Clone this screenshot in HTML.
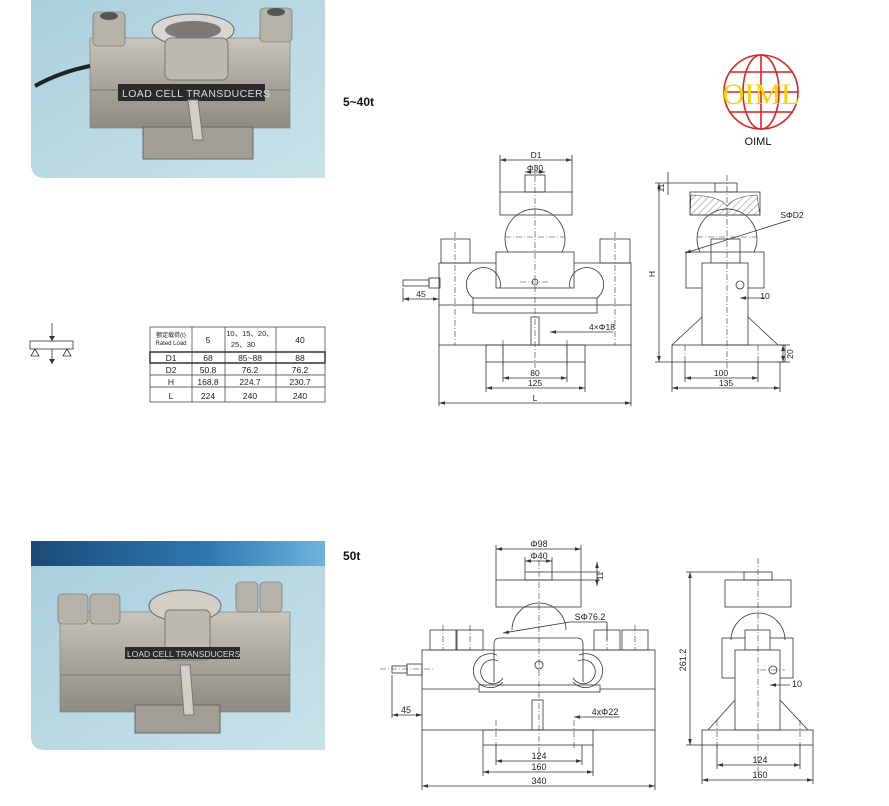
<!DOCTYPE html>
<html><head><meta charset="utf-8"><style>
html,body{margin:0;padding:0;background:#fff;}
svg{display:block;font-family:"Liberation Sans","Noto Sans CJK SC",sans-serif;}
</style></head><body>
<svg width="889" height="806" viewBox="0 0 889 806" xmlns="http://www.w3.org/2000/svg">
<defs>
<linearGradient id="bg1" x1="0" y1="0" x2="1" y2="1"><stop offset="0" stop-color="#a9cfdc"/><stop offset="1" stop-color="#c9e2ea"/></linearGradient>
<linearGradient id="metal" x1="0" y1="0" x2="0" y2="1"><stop offset="0" stop-color="#c9c6bd"/><stop offset="0.5" stop-color="#a8a59c"/><stop offset="1" stop-color="#8f8c84"/></linearGradient>
<linearGradient id="hdr" x1="0" y1="0" x2="1" y2="0"><stop offset="0" stop-color="#1b4a78"/><stop offset="0.6" stop-color="#2f78b0"/><stop offset="1" stop-color="#6fb4de"/></linearGradient>
<pattern id="hatch" width="5" height="5" patternUnits="userSpaceOnUse" patternTransform="rotate(45)"><line x1="0" y1="0" x2="0" y2="5" stroke="#555" stroke-width="0.7"/></pattern>
<marker id="ar" viewBox="0 0 10 6" refX="10" refY="3" markerWidth="6" markerHeight="3.6" orient="auto-start-reverse" markerUnits="userSpaceOnUse"><path d="M0 0 L10 3 L0 6 Z" fill="#333"/></marker>
</defs>

<!-- Photo 1 -->
<path d="M31 0 H325 V178 H45 Q31 178 31 164 Z" fill="url(#bg1)"/>
<g>
<rect x="90" y="38" width="200" height="90" fill="url(#metal)" stroke="#777" stroke-width="0.6"/>
<line x1="90" y1="90" x2="290" y2="90" stroke="#777"/>
<rect x="93" y="12" width="32" height="34" rx="4" fill="#b7b3aa" stroke="#666" stroke-width="0.6"/>
<ellipse cx="109" cy="16" rx="9" ry="4" fill="#555"/>
<rect x="260" y="8" width="32" height="34" rx="4" fill="#b7b3aa" stroke="#666" stroke-width="0.6"/>
<ellipse cx="276" cy="12" rx="9" ry="4" fill="#555"/>
<ellipse cx="193" cy="30" rx="41" ry="16" fill="#d8d6d0" stroke="#666"/>
<ellipse cx="193" cy="30" rx="28" ry="9" fill="#7d7a73"/>
<rect x="165" y="38" width="63" height="42" rx="6" fill="#bdbab2" stroke="#777"/>
<rect x="118" y="84" width="147" height="17" fill="#2a2a2a"/>
<text x="122" y="97" font-size="10.5" fill="#ddd" letter-spacing="0.4">LOAD CELL TRANSDUCERS</text>
<rect x="143" y="127" width="110" height="32" fill="#a19e95" stroke="#666"/>
<path d="M188 100 L198 100 L203 140 L193 140 Z" fill="#d0cec6" stroke="#777"/>
<path d="M35 86 Q60 72 90 66" stroke="#222" stroke-width="4" fill="none"/>
</g>

<text x="343" y="106" font-size="12" font-weight="bold" fill="#111">5~40t</text>
<text x="343" y="560" font-size="12" font-weight="bold" fill="#111">50t</text>

<!-- OIML logo -->
<g stroke="#d22" stroke-width="1.6" fill="none">
<circle cx="761" cy="92" r="37"/>
<ellipse cx="761" cy="92" rx="18" ry="37"/>
<line x1="761" y1="55" x2="761" y2="129"/>
<line x1="724" y1="92" x2="798" y2="92"/>
<path d="M729 72 H793 M729 112 H793"/>
</g>
<text x="761" y="104" font-size="30" font-family="Liberation Serif,serif" fill="#f5d400" text-anchor="middle">OIML</text>
<text x="758" y="145" font-size="11" fill="#111" text-anchor="middle">OIML</text>

<!-- Load diagram -->
<g stroke="#333" stroke-width="0.8" fill="none">
<rect x="30" y="341" width="43" height="8"/>
<line x1="52" y1="323" x2="52" y2="341"/>
<line x1="52" y1="349" x2="52" y2="364"/>
<path d="M35 349 L31 356 L39 356 Z M67 349 L63 356 L71 356 Z"/>
</g>
<path d="M49 336 L52 341 L55 336 Z M49 359 L52 364 L55 359 Z" fill="#333"/>

<!-- Table -->
<g stroke="#333" stroke-width="0.7" fill="none">
<rect x="150" y="327" width="175" height="75"/>
<line x1="192" y1="327" x2="192" y2="402"/>
<line x1="225" y1="327" x2="225" y2="402"/>
<line x1="276" y1="327" x2="276" y2="402"/>
<line x1="150" y1="363" x2="325" y2="363"/>
<line x1="150" y1="375" x2="325" y2="375"/>
<line x1="150" y1="387" x2="325" y2="387"/>
<rect x="150" y="352" width="175" height="11" stroke-width="1.5"/>
</g>
<g font-size="8.5" fill="#222" text-anchor="middle">
<text x="171" y="337" font-size="6">额定载荷(t)</text>
<text x="171" y="345" font-size="6">Rated Load</text>
<text x="208" y="343">5</text>
<text x="250" y="336" font-size="7.5">10、15、20、</text>
<text x="243" y="347" font-size="7.5">25、30</text>
<text x="300" y="343">40</text>
<text x="171" y="361">D1</text><text x="208" y="361">68</text><text x="250" y="361">85~88</text><text x="300" y="361">88</text>
<text x="171" y="373">D2</text><text x="208" y="373">50.8</text><text x="250" y="373">76.2</text><text x="300" y="373">76.2</text>
<text x="171" y="385">H</text><text x="208" y="385">168.8</text><text x="250" y="385">224.7</text><text x="300" y="385">230.7</text>
<text x="171" y="399">L</text><text x="208" y="399">224</text><text x="250" y="399">240</text><text x="300" y="399">240</text>
</g>

<!-- Drawing 1 front -->
<g stroke="#333" stroke-width="0.8" fill="none">
<rect x="500" y="192" width="72" height="23"/>
<rect x="525" y="175" width="20" height="17"/>
<path d="M508 252 A30 30 0 1 1 562 252"/>
<rect x="496" y="252" width="78" height="36"/>
<rect x="441" y="239" width="29" height="24"/>
<rect x="600" y="239" width="30" height="24"/>
<path d="M439 305 V263 H496 M574 263 H631 V305"/>
<path d="M473 298 A17 17 0 1 1 500 288 M597 298 A17 17 0 1 0 570 288"/>
<rect x="473" y="298" width="124" height="15"/>
<rect x="439" y="305" width="192" height="40"/>
<rect x="486" y="345" width="99" height="17"/>
<rect x="531" y="317" width="8" height="28"/>
<rect x="403" y="280" width="26" height="6"/>
<rect x="429" y="278" width="11" height="10"/>
<circle cx="535" cy="282" r="3"/>
<line x1="500" y1="155" x2="500" y2="192"/><line x1="572" y1="155" x2="572" y2="192"/>
<line x1="403" y1="288" x2="403" y2="302"/>
<line x1="503" y1="345" x2="503" y2="382"/><line x1="567" y1="345" x2="567" y2="382"/>
<line x1="486" y1="362" x2="486" y2="392"/><line x1="585" y1="362" x2="585" y2="392"/>
<line x1="439" y1="345" x2="439" y2="406"/><line x1="631" y1="345" x2="631" y2="406"/>
</g>
<g stroke="#333" stroke-width="0.8" fill="none" marker-start="url(#ar)" marker-end="url(#ar)">
<line x1="500" y1="160" x2="572" y2="160"/>
<line x1="525" y1="172" x2="545" y2="172"/>
<line x1="403" y1="299" x2="439" y2="299"/>
<line x1="503" y1="378" x2="567" y2="378"/>
<line x1="486" y1="388" x2="585" y2="388"/>
<line x1="439" y1="403" x2="631" y2="403"/>
<line x1="550" y1="332" x2="613" y2="332" marker-end="none"/>
</g>
<g stroke="#333" stroke-width="0.6" stroke-dasharray="6,2,1,2" fill="none">
<line x1="535" y1="165" x2="535" y2="368"/>
<line x1="455" y1="232" x2="455" y2="345"/>
<line x1="615" y1="232" x2="615" y2="345"/>
<line x1="503" y1="340" x2="503" y2="365"/><line x1="567" y1="340" x2="567" y2="365"/>
<line x1="505" y1="237" x2="565" y2="237"/>
<line x1="520" y1="282" x2="550" y2="282"/>
</g>
<g font-size="8.5" fill="#222" text-anchor="middle">
<text x="536" y="158">D1</text><text x="535" y="171">Φ30</text>
<text x="421" y="297">45</text><text x="535" y="376">80</text><text x="535" y="386">125</text><text x="535" y="401">L</text>
<text x="602" y="330">4×Φ18</text>
</g>

<!-- Drawing 1 side -->
<g stroke="#333" stroke-width="0.8" fill="none">
<rect x="715" y="183" width="22" height="9"/>
<rect x="690" y="192" width="70" height="23"/>
<path d="M700 252 A30 30 0 1 1 754 252"/>
<rect x="686" y="252" width="78" height="36"/>
<rect x="711" y="239" width="29" height="24"/>
<rect x="702" y="263" width="46" height="82" fill="#fff"/>
<path d="M702 317 L672 345 M748 317 L778 345"/>
<rect x="672" y="345" width="113" height="17"/>
<circle cx="740" cy="285" r="4"/>
<line x1="655" y1="183" x2="715" y2="183"/>
<line x1="655" y1="362" x2="672" y2="362"/>
<line x1="685" y1="362" x2="685" y2="382"/><line x1="758" y1="362" x2="758" y2="382"/>
<line x1="672" y1="362" x2="672" y2="392"/><line x1="780" y1="362" x2="780" y2="392"/>
<line x1="778" y1="345" x2="790" y2="345"/><line x1="778" y1="362" x2="790" y2="362"/>
<line x1="668" y1="172" x2="668" y2="195"/>
</g>
<g stroke="#333" stroke-width="0.8" fill="none" marker-start="url(#ar)" marker-end="url(#ar)">
<line x1="659" y1="183" x2="659" y2="362"/>
<line x1="685" y1="253" x2="790" y2="220" marker-end="none"/>
<line x1="740" y1="298" x2="765" y2="298" marker-end="none"/>
<line x1="685" y1="378" x2="758" y2="378"/>
<line x1="672" y1="388" x2="780" y2="388"/>
<line x1="783" y1="345" x2="783" y2="362"/>
</g>
<path d="M691 195 Q720 196 727 206 Q735 196 757 195 L760 215 L690 215 Z" fill="url(#hatch)" stroke="#333" stroke-width="0.6"/>
<g stroke="#333" stroke-width="0.6" stroke-dasharray="6,2,1,2" fill="none">
<line x1="727" y1="175" x2="727" y2="368"/>
<line x1="697" y1="237" x2="757" y2="237"/>
<line x1="685" y1="345" x2="685" y2="362"/><line x1="758" y1="345" x2="758" y2="362"/>
</g>
<g font-size="8.5" fill="#222" text-anchor="middle">
<text x="792" y="218">SΦD2</text>
<text x="765" y="299">10</text>
<text x="721" y="376">100</text><text x="726" y="386">135</text>
<text x="655" y="274" transform="rotate(-90 655 274)">H</text>
<text x="664" y="188" transform="rotate(-90 664 188)">11</text>
<text x="793" y="354" transform="rotate(-90 793 354)">20</text>
</g>

<!-- Photo 2 -->
<rect x="31" y="541" width="294" height="25" fill="url(#hdr)"/>
<path d="M31 566 H325 V750 H45 Q31 750 31 736 Z" fill="url(#bg1)"/>
<g>
<rect x="60" y="612" width="230" height="100" fill="url(#metal)" stroke="#777" stroke-width="0.6"/>
<line x1="60" y1="675" x2="290" y2="675" stroke="#777"/>
<rect x="58" y="594" width="30" height="30" rx="4" fill="#b7b3aa" stroke="#666" stroke-width="0.6"/>
<rect x="90" y="594" width="30" height="30" rx="4" fill="#b7b3aa" stroke="#666" stroke-width="0.6"/>
<rect x="236" y="582" width="22" height="30" rx="4" fill="#b7b3aa" stroke="#666" stroke-width="0.6"/>
<rect x="260" y="582" width="22" height="30" rx="4" fill="#b7b3aa" stroke="#666" stroke-width="0.6"/>
<ellipse cx="185" cy="606" rx="36" ry="16" fill="#d0cec6" stroke="#666"/>
<rect x="165" y="610" width="45" height="50" rx="5" fill="#bdbab2" stroke="#777"/>
<rect x="125" y="647" width="115" height="12" fill="#2a2a2a"/>
<text x="127" y="657" font-size="8.5" fill="#ddd">LOAD CELL TRANSDUCERS</text>
<rect x="135" y="705" width="85" height="28" fill="#a19e95" stroke="#666"/>
<path d="M180 665 L190 665 L194 715 L184 715 Z" fill="#d0cec6" stroke="#777"/>
</g>

<!-- Drawing 2 front -->
<g stroke="#333" stroke-width="0.8" fill="none">
<rect x="525" y="572" width="27" height="8"/>
<rect x="496" y="580" width="85" height="27"/>
<path d="M512 630 A27 27 0 0 1 566 630" />
<path d="M494 682 V644 Q494 638 500 638 H577 Q583 638 583 644 V682"/>
<rect x="430" y="630" width="26" height="20"/><rect x="457" y="630" width="26" height="20"/>
<rect x="594" y="630" width="26" height="20"/><rect x="622" y="630" width="26" height="20"/>
<rect x="422" y="650" width="233" height="80"/>
<line x1="422" y1="689" x2="655" y2="689"/>
<rect x="479" y="685" width="121" height="7" fill="#fff"/>
<path d="M503 682 A17 17 0 1 1 497 655 M573 682 A17 17 0 1 0 579 655"/>
<path d="M503 678 A12 12 0 1 1 498 661 M573 678 A12 12 0 1 0 578 661"/>
<circle cx="539" cy="665" r="4"/>
<rect x="532" y="700" width="11" height="30"/>
<rect x="483" y="730" width="110" height="15"/>
<rect x="392" y="666" width="15" height="7"/><rect x="407" y="664" width="15" height="11"/>
<line x1="496" y1="545" x2="496" y2="580"/><line x1="581" y1="545" x2="581" y2="580"/>
<line x1="525" y1="557" x2="525" y2="572"/><line x1="552" y1="557" x2="552" y2="572"/>
<line x1="552" y1="572" x2="600" y2="572"/><line x1="581" y1="580" x2="600" y2="580"/>
<line x1="570" y1="622" x2="607" y2="622"/><line x1="607" y1="622" x2="607" y2="640"/>
<line x1="392" y1="675" x2="392" y2="718"/>
<line x1="496" y1="745" x2="496" y2="765"/><line x1="582" y1="745" x2="582" y2="765"/>
<line x1="483" y1="745" x2="483" y2="776"/><line x1="593" y1="745" x2="593" y2="776"/>
<line x1="422" y1="730" x2="422" y2="790"/><line x1="655" y1="730" x2="655" y2="790"/>
</g>
<g stroke="#333" stroke-width="0.8" fill="none" marker-start="url(#ar)" marker-end="url(#ar)">
<line x1="496" y1="549" x2="581" y2="549"/>
<line x1="525" y1="561" x2="552" y2="561"/>
<line x1="597" y1="562" x2="597" y2="586"/>
<line x1="503" y1="633" x2="570" y2="622" marker-end="none"/>
<line x1="392" y1="715" x2="422" y2="715"/>
<line x1="574" y1="717" x2="620" y2="717" marker-end="none"/>
<line x1="496" y1="761" x2="582" y2="761"/>
<line x1="483" y1="772" x2="593" y2="772"/>
<line x1="422" y1="786" x2="655" y2="786"/>
</g>
<g stroke="#333" stroke-width="0.6" stroke-dasharray="6,2,1,2" fill="none">
<line x1="539" y1="560" x2="539" y2="760"/>
<line x1="380" y1="669" x2="435" y2="669"/>
<line x1="496" y1="720" x2="496" y2="750"/><line x1="574" y1="720" x2="574" y2="750"/>
<line x1="443" y1="625" x2="443" y2="650"/><line x1="470" y1="625" x2="470" y2="650"/>
<line x1="607" y1="625" x2="607" y2="650"/><line x1="635" y1="625" x2="635" y2="650"/>
</g>
<g font-size="9" fill="#222" text-anchor="middle">
<text x="539" y="547">Φ98</text><text x="539" y="559">Φ40</text>
<text x="590" y="620">SΦ76.2</text>
<text x="406" y="713">45</text><text x="605" y="715">4xΦ22</text>
<text x="539" y="759">124</text><text x="539" y="770">160</text><text x="539" y="784">340</text>
<text x="603" y="576" font-size="8" transform="rotate(-90 603 576)">11</text>
</g>

<!-- Drawing 2 side -->
<g stroke="#333" stroke-width="0.8" fill="none">
<rect x="744" y="572" width="28" height="8"/>
<rect x="725" y="580" width="66" height="27"/>
<path d="M731 640 A27 27 0 0 1 785 640"/>
<rect x="722" y="638" width="71" height="40"/>
<rect x="745" y="630" width="25" height="20" fill="#fff"/>
<rect x="735" y="650" width="45" height="80" fill="#fff"/>
<path d="M735 700 L708 730 M780 700 L808 730"/>
<rect x="702" y="730" width="111" height="15"/>
<circle cx="773" cy="670" r="4"/>
<line x1="686" y1="572" x2="744" y2="572"/><line x1="686" y1="745" x2="702" y2="745"/>
<line x1="717" y1="745" x2="717" y2="769"/><line x1="800" y1="745" x2="800" y2="769"/>
<line x1="702" y1="745" x2="702" y2="784"/><line x1="813" y1="745" x2="813" y2="784"/>
</g>
<g stroke="#333" stroke-width="0.8" fill="none" marker-start="url(#ar)" marker-end="url(#ar)">
<line x1="690" y1="572" x2="690" y2="745"/>
<line x1="770" y1="685" x2="790" y2="685" marker-end="none"/>
<line x1="717" y1="765" x2="800" y2="765"/>
<line x1="702" y1="780" x2="813" y2="780"/>
</g>
<g stroke="#333" stroke-width="0.6" stroke-dasharray="6,2,1,2" fill="none">
<line x1="758" y1="558" x2="758" y2="775"/>
<line x1="717" y1="720" x2="717" y2="750"/><line x1="800" y1="720" x2="800" y2="750"/>
<line x1="760" y1="670" x2="785" y2="670"/>
</g>
<g font-size="9" fill="#222" text-anchor="middle">
<text x="797" y="687">10</text>
<text x="760" y="763">124</text><text x="760" y="778">160</text>
<text x="686" y="660" transform="rotate(-90 686 660)">261.2</text>
</g>
</svg>
</body></html>
